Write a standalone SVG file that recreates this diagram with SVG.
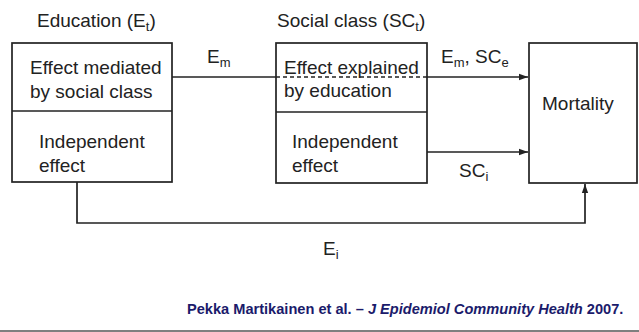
<svg xmlns="http://www.w3.org/2000/svg" width="639" height="332" viewBox="0 0 639 332">
<defs>
<style>
.t{font-family:"Liberation Sans",Arial,sans-serif;font-size:19px;fill:#222}
.s{font-size:13px}
.box{fill:#fff;stroke:#222;stroke-width:1.7}
.ln{fill:none;stroke:#222;stroke-width:1.7}
.cite{font-family:"Liberation Sans",Arial,sans-serif;font-size:14.6px;font-weight:bold;fill:#1b1b6b}
</style>
<marker id="ah" viewBox="0 0 10 10" refX="10" refY="5" markerWidth="9" markerHeight="9" markerUnits="userSpaceOnUse" orient="auto">
<path d="M0,1.5 L10,5 L0,8.5 z" fill="#222"/>
</marker>
</defs>
<rect width="639" height="332" fill="#fff"/>
<g id="education">
<rect class="box" x="12" y="43" width="160" height="139"/>
<line class="ln" x1="12" y1="111" x2="172" y2="111"/>
<text class="t" x="37" y="27">Education (E<tspan class="s" dy="4">t</tspan><tspan dy="-4">)</tspan></text>
<text class="t" x="30" y="74">Effect mediated</text>
<text class="t" x="30" y="98">by social class</text>
<text class="t" x="39" y="148">Independent</text>
<text class="t" x="39" y="172">effect</text>
</g>
<g id="socialclass">
<rect class="box" x="276" y="43" width="151" height="140"/>
<line class="ln" x1="276" y1="112" x2="427" y2="112"/>
<text class="t" x="277" y="27">Social class (SC<tspan class="s" dy="4">t</tspan><tspan dy="-4">)</tspan></text>
<text class="t" x="284" y="74">Effect explained</text>
<text class="t" x="284" y="97">by education</text>
<text class="t" x="292" y="148">Independent</text>
<text class="t" x="292" y="172">effect</text>
</g>
<g id="mortality">
<rect class="box" x="529" y="43" width="108" height="140"/>
<text class="t" x="542" y="110" font-size="20">Mortality</text>
</g>
<g id="connectors">
<line class="ln" x1="172" y1="77" x2="276" y2="77"/>
<line class="ln" x1="276" y1="77" x2="427" y2="77" stroke-dasharray="4,3"/>
<line class="ln" x1="427" y1="77" x2="528" y2="77" marker-end="url(#ah)"/>
<line class="ln" x1="427" y1="152" x2="528" y2="152" marker-end="url(#ah)"/>
<polyline class="ln" points="77,182 77,223 585,223 585,184" marker-end="url(#ah)"/>
<text class="t" x="207" y="63">E<tspan class="s" dy="4">m</tspan></text>
<text class="t" x="441" y="63">E<tspan class="s" dy="4">m</tspan><tspan dy="-4">, SC</tspan><tspan class="s" dy="4">e</tspan></text>
<text class="t" x="459" y="177">SC<tspan class="s" dy="4">i</tspan></text>
<text class="t" x="323" y="255">E<tspan class="s" dy="4">i</tspan></text>
</g>
<text class="cite" x="187" y="314">Pekka Martikainen et al. – <tspan font-style="italic">J Epidemiol Community Health</tspan> 2007.</text>
<line x1="0" y1="331" x2="639" y2="331" stroke="#555" stroke-width="1.5"/>
</svg>
